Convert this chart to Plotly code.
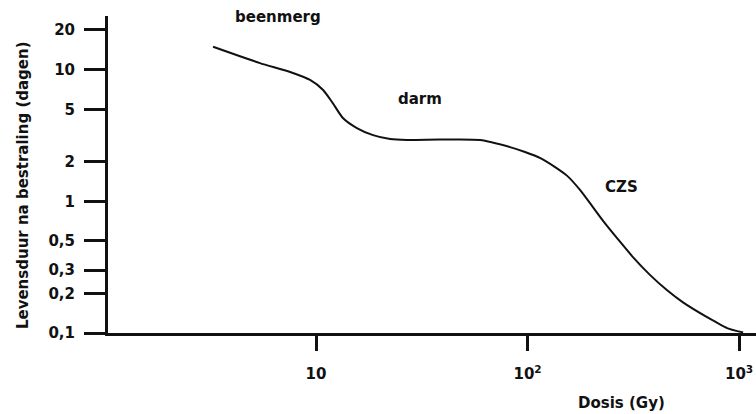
import plotly.graph_objects as go

# Survival time after irradiation vs dose (log-log)
dose_gy = [3.26, 5.43, 7.54, 9.37, 10.8, 12.0, 13.4, 15.6, 18.6, 22.4, 26.9, 38.5,
           59.6, 82.6, 97.3, 115, 135, 154, 177, 204, 232, 265, 315, 380, 457, 543,
           706, 878, 1045]
survival_days = [14.9, 11.2, 9.59, 8.34, 7.0, 5.57, 4.29, 3.60, 3.18, 2.97, 2.92, 2.94,
                 2.92, 2.58, 2.37, 2.13, 1.82, 1.56, 1.22, 0.90, 0.683, 0.525, 0.377,
                 0.275, 0.211, 0.171, 0.132, 0.109, 0.101]

y_tickvals = [0.1, 0.2, 0.3, 0.5, 1, 2, 5, 10, 20]
y_ticktext = ["0,1", "0,2", "0,3", "0,5", "1", "2", "5", "10", "20"]
x_tickvals = [10, 100, 1000]
x_ticktext = ["10", "10<sup>2</sup>", "10<sup>3</sup>"]

region_labels = ["beenmerg", "darm", "CZS"]
region_pos = [(0.262, 0.997), (0.481, 0.738), (0.793, 0.461)]

ink = "#111111"
font_family = "DejaVu Sans"

fig = go.Figure()
fig.add_trace(go.Scatter(
    x=dose_gy, y=survival_days, mode="lines",
    line=dict(color=ink, width=2, shape="spline", smoothing=0.6),
    hoverinfo="skip", showlegend=False,
))

annotations = []
for text, (px, py) in zip(region_labels, region_pos):
    annotations.append(dict(
        text=text, x=px, y=py, xref="paper", yref="paper",
        showarrow=False, xanchor="center", yanchor="middle",
        font=dict(family=font_family, size=15, color=ink, weight="bold"),
    ))
annotations.append(dict(
    text="Dosis (Gy)", x=0.793, y=-0.221, xref="paper", yref="paper",
    showarrow=False, xanchor="center", yanchor="middle",
    font=dict(family=font_family, size=15, color=ink, weight="bold"),
))
annotations.append(dict(
    text="Levensduur na bestraling (dagen)", x=-0.131, y=0.467,
    xref="paper", yref="paper", textangle=-90,
    showarrow=False, xanchor="center", yanchor="middle",
    font=dict(family=font_family, size=15, color=ink, weight="bold"),
))

fig.update_layout(
    width=756, height=414,
    margin=dict(l=108, r=0, t=16, b=81),
    paper_bgcolor="white", plot_bgcolor="white",
    annotations=annotations,
    xaxis=dict(
        type="log", range=[0.0165, 3.080],
        tickvals=x_tickvals, ticktext=x_ticktext,
        ticks="outside", ticklen=15, tickwidth=2.5, tickcolor=ink,
        showline=True, linewidth=3, linecolor=ink,
        showgrid=False, zeroline=False, ticklabelstandoff=10,
        tickfont=dict(family=font_family, size=15, color=ink, weight="bold"),
    ),
    yaxis=dict(
        type="log", range=[-1, 1.407],
        tickvals=y_tickvals, ticktext=y_ticktext,
        ticks="outside", ticklen=21, tickwidth=2.5, tickcolor=ink,
        showline=True, linewidth=3, linecolor=ink,
        showgrid=False, zeroline=False, ticklabelstandoff=6,
        tickfont=dict(family=font_family, size=15, color=ink, weight="bold"),
    ),
)

fig.write_html("out.html")
